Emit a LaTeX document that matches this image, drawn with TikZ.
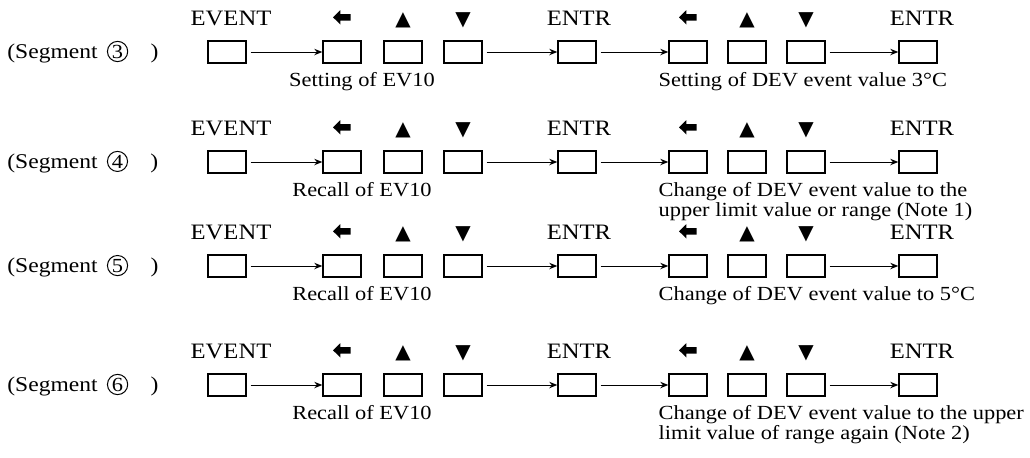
\documentclass[tikz,border=0pt]{standalone}
\usepackage{fontspec}
\setmainfont{Liberation Serif}[FakeStretch=1.12]
\newfontfamily\keysym{DejaVu Sans}
\usetikzlibrary{arrows.meta,positioning}

\tikzset{
  key/.style={draw,line width=0.7pt,minimum width=19pt,minimum height=11pt,inner sep=0pt},
  flow/.style={-{Stealth[length=4pt,width=3.2pt]},line width=0.5pt,shorten <=2pt},
  keyname/.style={inner sep=0pt,anchor=base,font=\fontsize{11}{12}\selectfont},
  keysign/.style={inner sep=0pt,anchor=base,font=\keysym\fontsize{10}{11}\selectfont},
  remark/.style={inner sep=0pt,align=left,font=\fontsize{10}{8.5}\selectfont},
  segname/.style={inner sep=0pt,anchor=base west,font=\fontsize{10.5}{12}\selectfont},
  segnum/.style={draw,circle,line width=0.5pt,inner sep=0.5pt,anchor=base west,font=\fontsize{10}{11}\selectfont},
  leftkey/.pic={\fill (-4.5pt,0) -- (-0.8pt,3.6pt) -- (-0.8pt,1.6pt) -- (4.3pt,1.6pt)
    -- (4.3pt,-1.6pt) -- (-0.8pt,-1.6pt) -- (-0.8pt,-3.6pt) -- cycle;},
}

\newcommand{\keyrow}[5]{
  \node[segname] (#1s) at (7,{#2+6}) {(Segment};
  \node[segnum] (#1n) at ([xshift=4.5pt]#1s.base east) {#3};
  \node[segname] (#1p) at ([xshift=11pt]#1n.base east) {)};
  \node[key] (#1a) at (227,#2) {};
  \node[key] (#1b) at (342,#2) {};
  \node[key] (#1c) at (403,#2) {};
  \node[key] (#1d) at (463,#2) {};
  \node[key] (#1e) at (577,#2) {};
  \node[key] (#1f) at (688,#2) {};
  \node[key] (#1g) at (747,#2) {};
  \node[key] (#1h) at (806,#2) {};
  \node[key] (#1i) at (918,#2) {};
  \draw[flow] (#1a) -- (#1b);
  \draw[flow] (#1d) -- (#1e);
  \draw[flow] (#1e) -- (#1f);
  \draw[flow] (#1h) -- (#1i);
  \node[keyname] (#1at) at ([xshift=2pt,yshift=7.5pt]#1a.north) {EVENT};
  \pic at ([yshift=11.5pt]#1b.north) {leftkey};
  \node[keysign] (#1ct) at ([yshift=7.5pt]#1c.north) {▲};
  \node[keysign] (#1dt) at ([yshift=7.5pt]#1d.north) {▼};
  \node[keyname] (#1et) at ([xshift=1pt,yshift=7.5pt]#1e.north) {ENTR};
  \pic at ([yshift=11.5pt]#1f.north) {leftkey};
  \node[keysign] (#1gt) at ([yshift=7.5pt]#1g.north) {▲};
  \node[keysign] (#1ht) at ([yshift=7.5pt]#1h.north) {▼};
  \node[keyname] (#1it) at ([xshift=2pt,yshift=7.5pt]#1i.north) {ENTR};
  \node[remark,anchor=north] (#1l) at ([xshift=10pt,yshift=-4pt]#1b.south) {#4};
  \node[remark,anchor=north west] (#1r) at ([xshift=-5pt,yshift=-4pt]#1f.south west) {#5};
}

\begin{document}
\begin{tikzpicture}[x=0.5pt,y=-0.5pt]
  \path[use as bounding box,fill=white] (0,0) rectangle (1030,457);
  \keyrow{r3}{52}{3}{Setting of EV10}{Setting of DEV event value 3°C}
  \keyrow{r4}{162}{4}{Recall of EV10}{Change of DEV event value to the\\upper limit value or range (Note 1)}
  \keyrow{r5}{266}{5}{Recall of EV10}{Change of DEV event value to 5°C}
  \keyrow{r6}{385}{6}{Recall of EV10}{Change of DEV event value to the upper\\limit value of range again (Note 2)}
\end{tikzpicture}
\end{document}
